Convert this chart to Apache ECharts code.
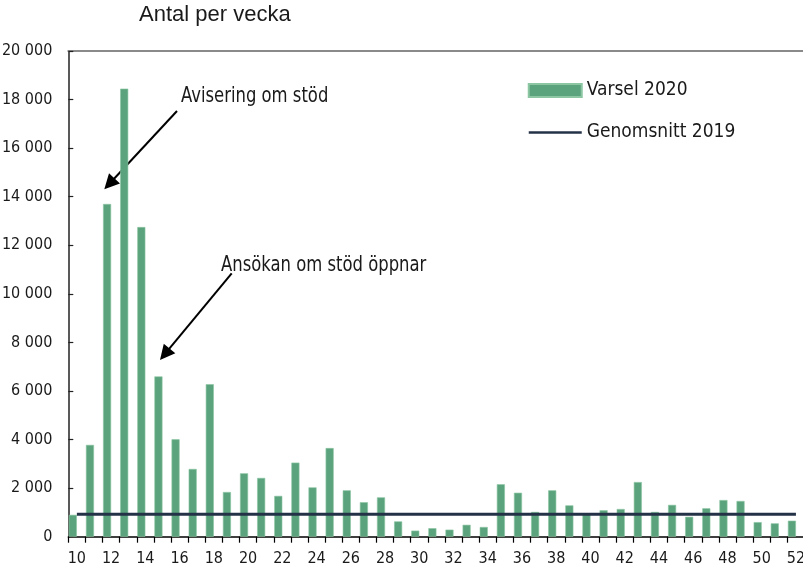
<!DOCTYPE html>
<html>
<head>
<meta charset="utf-8">
<script src="https://cdn.jsdelivr.net/npm/echarts@6/dist/echarts.min.js"></script>
<style>
  html, body { margin: 0; padding: 0; background: #fff; }
  #chart { width: 803px; height: 574px; }
</style>
</head>
<body>
<div id="chart"></div>
<script>
// Week numbers on the x axis
const weeks = ['10','11','12','13','14','15','16','17','18','19','20','21','22','23','24','25','26','27','28','29','30',
               '31','32','33','34','35','36','37','38','39','40','41','42','43','44','45','46','47','48','49','50','51','52'];

// Notices per week, 2020
const varsel2020 = [900, 3780, 13700, 18450, 12750, 6600, 4010, 2790, 6280, 1840, 2610, 2420, 1680, 3050, 2030, 3650,
                    1910, 1420, 1620, 630, 250, 350, 290, 490, 400, 2160, 1810, 1020, 1910, 1290, 940, 1090, 1140,
                    2250, 1020, 1310, 820, 1170, 1510, 1470, 600, 550, 660];

// Weekly average for 2019
const snitt2019 = [925, 925, 925, 925, 925, 925, 925, 925, 925, 925, 925, 925, 925, 925, 925, 925, 925, 925, 925, 925, 925,
                   925, 925, 925, 925, 925, 925, 925, 925, 925, 925, 925, 925, 925, 925, 925, 925, 925, 925, 925, 925, 925, 925];

// Y axis range
const yMin = 0, yMax = 20000, yStep = 2000;

const narrow = '"DejaVu Sans Condensed", "Liberation Sans Narrow", sans-serif';
const regular = '"Liberation Sans", Arial, sans-serif';
const ink = '#1a1a1a';

function fmtThousands(v) {
  return String(v).replace(/\B(?=(\d{3})+(?!\d))/g, ' ');
}

// Arrow made of a shaft and a filled head
function arrow(x1, y1, x2, y2) {
  const dx = x2 - x1, dy = y2 - y1;
  const len = Math.sqrt(dx * dx + dy * dy);
  const ux = dx / len, uy = dy / len;
  const headLen = 15, headHalf = 7.5;
  const bx = x2 - ux * headLen, by = y2 - uy * headLen;
  return {
    type: 'group',
    children: [
      { type: 'line', shape: { x1: x1, y1: y1, x2: bx + ux * 2, y2: by + uy * 2 },
        style: { stroke: '#000', lineWidth: 2 } },
      { type: 'polygon',
        shape: { points: [[x2, y2], [bx - uy * headHalf, by + ux * headHalf], [bx + uy * headHalf, by - ux * headHalf]] },
        style: { fill: '#000' } }
    ]
  };
}

// Narrowed callout text
function callout(text, x, y) {
  return {
    type: 'text', x: x, y: y, scaleX: 0.87, scaleY: 1,
    style: { text: text, font: '21px ' + narrow, fill: ink, verticalAlign: 'top', align: 'left' }
  };
}

const chart = echarts.init(document.getElementById('chart'), null, { renderer: 'canvas' });

chart.setOption({
  animation: false,
  backgroundColor: '#fff',
  title: {
    text: 'Antal per vecka',
    left: 134, top: -1,
    textStyle: { fontFamily: regular, fontSize: 22, fontWeight: 'normal', color: ink }
  },
  legend: {
    orient: 'vertical',
    left: 522.5, top: 76,
    itemWidth: 53, itemHeight: 13, itemGap: 23,
    textStyle: { fontFamily: narrow, fontSize: 19, color: ink },
    data: [
      { name: 'Varsel 2020', icon: 'rect' },
      { name: 'Genomsnitt 2019', itemStyle: { opacity: 0 }, lineStyle: { width: 2.5 } }
    ]
  },
  grid: { left: 68.3, right: -1.5, top: 51, bottom: 37.3, containLabel: false, outerBoundsMode: 'none' },
  xAxis: [
    {
      type: 'category',
      data: weeks,
      boundaryGap: true,
      axisLine: { lineStyle: { color: '#000', width: 1.5 } },
      axisTick: { show: true, interval: 0, length: 6, lineStyle: { color: '#000', width: 1.2 } },
      axisLabel: { interval: 1, fontFamily: narrow, fontSize: 16, color: ink, margin: 14 },
      splitLine: { show: false }
    },
    {
      type: 'category',
      position: 'top',
      data: weeks,
      axisLine: { lineStyle: { color: '#8a8a8a', width: 2 } },
      axisTick: { show: false },
      axisLabel: { show: false },
      splitLine: { show: false }
    }
  ],
  yAxis: {
    type: 'value',
    min: yMin, max: yMax, interval: yStep,
    axisLine: { show: true, lineStyle: { color: '#222', width: 1.5 } },
    axisTick: { show: true, inside: true, length: 5, lineStyle: { color: '#222', width: 1.2 } },
    axisLabel: { fontFamily: narrow, fontSize: 16, color: ink, margin: 16, formatter: fmtThousands },
    splitLine: { show: false }
  },
  series: [
    {
      name: 'Varsel 2020',
      type: 'bar',
      data: varsel2020,
      barGap: '0%',
      barCategoryGap: '6%',
      itemStyle: { color: '#5ba37c', borderColor: '#8cc6a3', borderWidth: 0.6 },
      z: 2
    },
    {
      // empty slot so each bar sits in the left half of its week
      name: 'spacer',
      type: 'bar',
      data: weeks.map(() => null),
      silent: true
    },
    {
      name: 'Genomsnitt 2019',
      type: 'line',
      data: snitt2019,
      symbol: 'none',
      lineStyle: { color: '#243247', width: 3 },
      itemStyle: { color: '#243247' },
      z: 3
    }
  ],
  graphic: [
    callout('Avisering om stöd', 181, 86),
    callout('Ansökan om stöd öppnar', 221, 255),
    arrow(177, 111, 104.3, 189.3),
    arrow(231.7, 273.3, 160, 360)
  ]
});
</script>
</body>
</html>
